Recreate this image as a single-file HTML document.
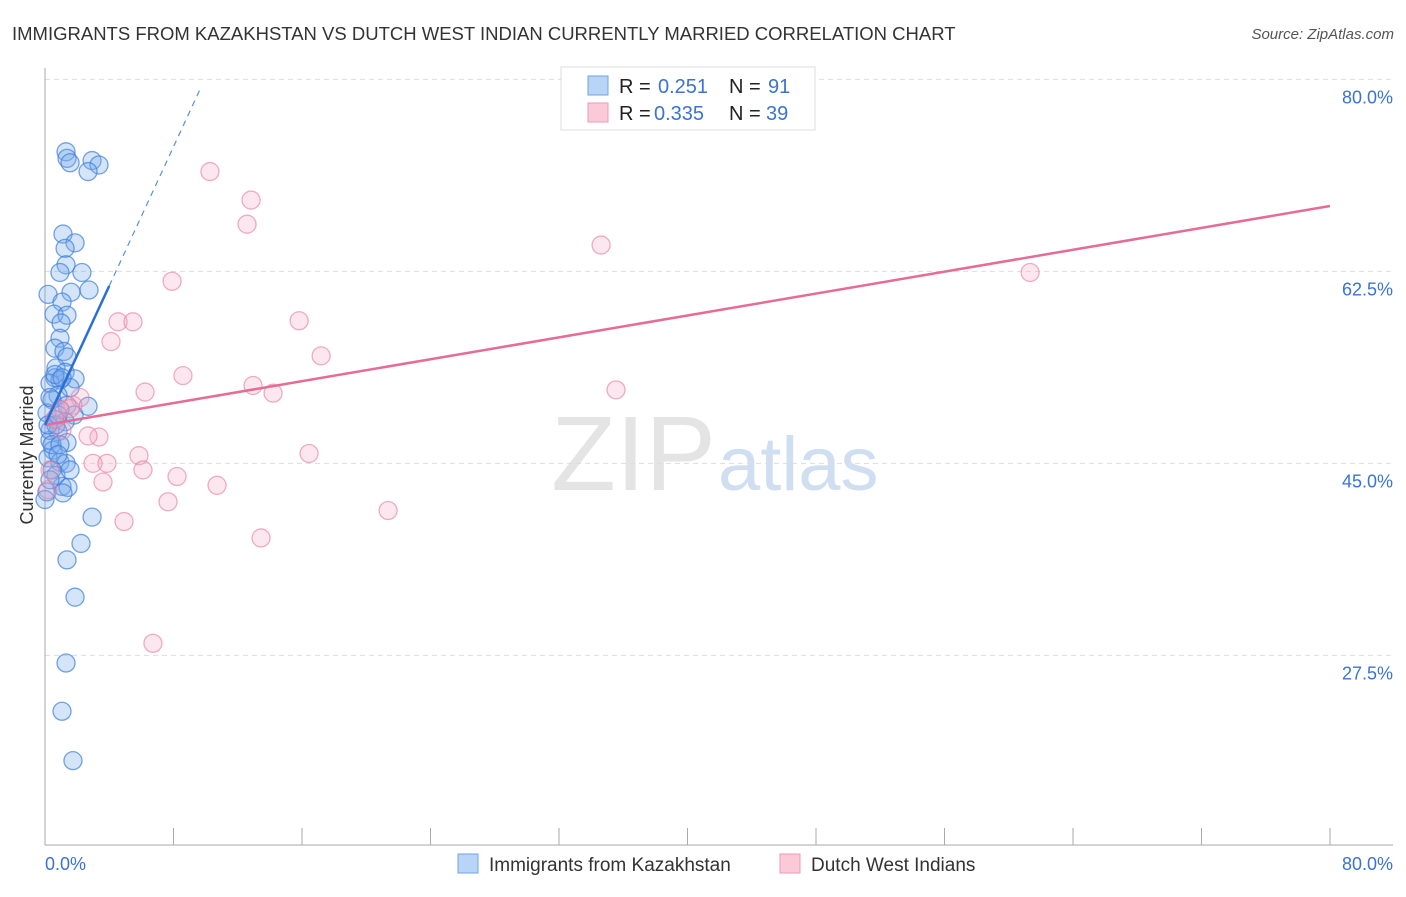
<!DOCTYPE html>
<html><head><meta charset="utf-8"><style>
body{margin:0;background:#fff;width:1406px;height:892px;overflow:hidden;font-family:"Liberation Sans",sans-serif}
svg text{font-family:"Liberation Sans",sans-serif}
</style></head><body>
<svg id="chart" width="1406" height="892" xmlns="http://www.w3.org/2000/svg">
<text x="12" y="40" font-size="18.5" fill="#333">IMMIGRANTS FROM KAZAKHSTAN VS DUTCH WEST INDIAN CURRENTLY MARRIED CORRELATION CHART</text>
<text x="1394" y="39" font-size="15" fill="#555" font-style="italic" text-anchor="end">Source: ZipAtlas.com</text>
<text x="716" y="490" font-size="106" text-anchor="end" fill="#e4e4e4" font-family="Liberation Serif">ZIP</text>
<text x="718" y="490" font-size="76" fill="#d0def2">atlas</text>
<g id="grid"></g>
<g id="axes"></g>
<g id="marks"></g>
<text transform="translate(33,455) rotate(-90)" font-size="18" fill="#333" text-anchor="middle">Currently Married</text>
<g>
<rect x="561" y="67" width="254" height="63" fill="#fff" stroke="#ddd"/>
<rect x="588" y="76" width="20" height="19" fill="#b8d4f6" stroke="#6fa3e6"/>
<rect x="588" y="103" width="20" height="19" fill="#fbcad8" stroke="#ef98b4"/>
<text x="619" y="93" font-size="20" fill="#222">R = </text><text x="658" y="93" font-size="20" fill="#3a73d4">0.251</text>
<text x="729" y="93" font-size="20" fill="#222">N = </text><text x="768" y="93" font-size="20" fill="#3a73d4">91</text>
<text x="619" y="120" font-size="20" fill="#222">R = </text><text x="654" y="120" font-size="20" fill="#3a73d4">0.335</text>
<text x="729" y="120" font-size="20" fill="#222">N = </text><text x="766" y="120" font-size="20" fill="#3a73d4">39</text>
</g>
<g>
<rect x="458" y="854" width="20" height="19" fill="#b8d4f6" stroke="#6fa3e6"/>
<text x="489" y="871" font-size="19" fill="#333">Immigrants from Kazakhstan</text>
<rect x="780" y="854" width="20" height="19" fill="#fbcad8" stroke="#ef98b4"/>
<text x="811" y="871" font-size="19" fill="#333">Dutch West Indians</text>
</g>
</svg>
<script>
const blueX=[1.31,1.37,1.56,2.93,3.36,2.68,1.12,1.87,1.25,1.31,0.93,2.30,2.74,1.62,0.19,1.06,0.56,1.37,1.0,0.93,0.62,1.18,1.37,0.68,1.25,0.62,0.93,1.87,0.31,1.56,0.81,0.44,1.37,2.68,0.93,1.81,0.12,0.62,1.25,0.81,1.37,0.31,0.5,0.19,0.93,1.31,0.44,1.06,1.43,0.12,2.93,2.24,1.37,1.87,1.31,1.06,1.74,0.31,0.68,0.19,0.44,0.93,0.68,0.31,1.12,1.56,0.81,0,0.62,1.06,0.31,0.81];
const blueY=[73.4,72.8,72.4,72.6,72.2,71.6,65.9,65.1,64.6,63.1,62.4,62.4,60.8,60.6,60.4,59.7,58.6,58.5,57.8,56.4,55.5,55.2,54.7,53.7,53.3,52.8,52.6,52.7,52.3,51.9,51.2,50.8,50.3,50.2,49.9,49.4,49.6,49.0,48.8,47.9,46.9,47.1,46.2,45.5,45.1,45.0,44.4,42.9,42.8,42.4,40.1,37.7,36.2,32.8,26.8,22.4,17.9,48.0,48.5,48.5,46.7,46.7,43.9,43.5,42.3,44.4,45.8,41.7,53.1,52.8,51.0,49.4];
const pinkX=[10.27,12.83,12.58,34.62,61.33,7.91,4.55,5.48,15.82,4.11,17.19,8.59,6.23,12.95,35.55,14.2,2.18,1.74,1.56,0.93,3.36,2.68,16.44,5.85,2.99,3.86,6.1,8.22,3.61,10.71,7.66,4.92,21.36,13.45,6.72,0.19,0.31,1.06,0.62];
const pinkY=[71.6,69.0,66.8,64.9,62.4,61.6,57.9,57.9,58.0,56.1,54.8,53.0,51.5,52.1,51.7,51.4,51.0,50.3,50.0,49.9,47.4,47.5,45.9,45.7,45.0,45.0,44.4,43.8,43.3,43.0,41.5,39.7,40.7,38.2,28.6,42.6,44.4,48.0,49.0];
const yTicks=[80,62.5,45,27.5];
const xTickVals=[0,8,16,24,32,40,48,56,64,72,80];
const blueTrend=[48.5,3.17];
const pinkTrend=[48.5,0.2495];
const NS="http://www.w3.org/2000/svg";
const sx=v=>45+v*1285/80;
const sy=v=>957-v*10.97;
function mk(tag,attrs,parent){const e=document.createElementNS(NS,tag);for(const k in attrs)e.setAttribute(k,attrs[k]);document.getElementById(parent).appendChild(e);return e;}
yTicks.forEach(t=>{
 const l=mk('line',{x1:45,x2:1393,y1:sy(t),y2:sy(t),stroke:'#ddd','stroke-dasharray':'5,4'},'grid');
 
 
 const tx=mk('text',{x:1393,y:sy(t)+24,'font-size':18,fill:'#3a73d4','text-anchor':'end'},'grid');
 tx.textContent=t.toFixed(1)+'%';
 
 
});
const ax=mk('line',{x1:45,x2:45,y1:68,y2:845,stroke:'#aaa'},'axes');


const bx=mk('line',{x1:45,x2:1393,y1:845,y2:845,stroke:'#aaa'},'axes');


xTickVals.forEach(t=>{
 const l=mk('line',{x1:sx(t),x2:sx(t),y1:828,y2:845,stroke:'#aaa'},'axes');
 
 
});
[[0,'start'],[80,'end']].forEach(([t,a])=>{
 const tx=mk('text',{x:t===0?45:1393,y:870,'font-size':18,fill:'#3a73d4','text-anchor':a},'axes');
 tx.textContent=t.toFixed(1)+'%';
 
 
});
blueX.forEach((x,i)=>{
 const c=mk('circle',{cx:sx(x),cy:sy(blueY[i]),r:9,fill:'rgba(120,170,235,0.32)',stroke:'rgba(60,125,220,0.7)','stroke-width':1.3},'marks');
 
 
});
pinkX.forEach((x,i)=>{
 const c=mk('circle',{cx:sx(x),cy:sy(pinkY[i]),r:9,fill:'rgba(245,170,195,0.28)',stroke:'rgba(230,130,165,0.65)','stroke-width':1.3},'marks');
 
 
});
const pl=mk('line',{x1:sx(0),y1:sy(pinkTrend[0]),x2:sx(80),y2:sy(pinkTrend[0]+pinkTrend[1]*80),stroke:'#e66b95','stroke-width':2.5},'marks');


const bl=mk('line',{x1:sx(0),y1:sy(blueTrend[0]),x2:sx(4),y2:sy(blueTrend[0]+blueTrend[1]*4),stroke:'#2a6fd6','stroke-width':2.5},'marks');


const bd=mk('line',{x1:sx(4),y1:sy(blueTrend[0]+blueTrend[1]*4),x2:sx(9.7),y2:sy(blueTrend[0]+blueTrend[1]*9.7),stroke:'#5a8fe0','stroke-width':1.2,'stroke-dasharray':'6,5'},'marks');


</script>
</body></html>
